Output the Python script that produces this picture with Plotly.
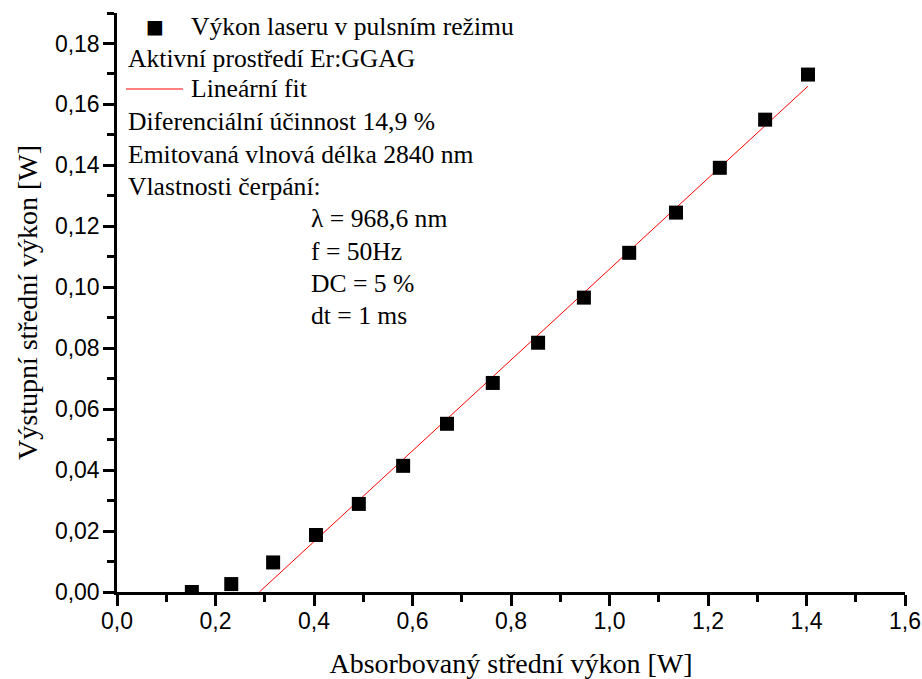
import plotly.graph_objects as go
import numpy as np

# Data
absorbed_power = [0.152, 0.232, 0.317, 0.404, 0.491, 0.581, 0.670, 0.763, 0.855,
                  0.948, 1.040, 1.135, 1.224, 1.316, 1.403]
output_power = [0.0000, 0.0026, 0.0097, 0.0187, 0.0289, 0.0414, 0.0552, 0.0686, 0.0818,
                0.0966, 0.1113, 0.1245, 0.1392, 0.1550, 0.1698]

# Linear fit parameters (from the figure: slope 14.9 %, x-intercept ~0.289 W)
fit_slope = 0.149
fit_x0 = 0.289
fit_x_end = 1.403
fit_x = [fit_x0, fit_x_end]
fit_y = [fit_slope * (x - fit_x0) for x in fit_x]

x_ticks = [0.0, 0.2, 0.4, 0.6, 0.8, 1.0, 1.2, 1.4, 1.6]
y_ticks = [0.00, 0.02, 0.04, 0.06, 0.08, 0.10, 0.12, 0.14, 0.16, 0.18]

legend_lines = [
    "Výkon laseru v pulsním režimu",
    "Aktivní prostředí Er:GGAG",
    "Lineární fit",
    "Diferenciální účinnost 14,9 %",
    "Emitovaná vlnová délka 2840 nm",
    "Vlastnosti čerpání:",
]
pump_lines = ["λ = 968,6 nm", "f = 50Hz", "DC = 5 %", "dt = 1 ms"]

W, H = 922, 679
L, T = 117, 13
R = W - 905
B = H - 592
PW, PH = W - L - R, H - T - B


def px(xp):
    return (xp - L) / PW


def py(yp):
    return (H - B - yp) / PH


SERIF = "Liberation Serif, Times New Roman, serif"
SANS = "Liberation Sans, Arial, sans-serif"

fig = go.Figure()
fig.add_trace(go.Scatter(
    x=fit_x, y=fit_y, mode="lines",
    line=dict(color="#ff0000", width=1), showlegend=False, hoverinfo="skip"))
fig.add_trace(go.Scatter(
    x=absorbed_power, y=output_power, mode="markers",
    marker=dict(symbol="square", size=14, color="black"),
    showlegend=False))

axis_common = dict(
    showgrid=False, zeroline=False, showline=True, linecolor="black", linewidth=2.5,
    ticks="outside", ticklen=11, tickwidth=2.5, tickcolor="black", automargin=False,
    tickfont=dict(family=SANS, size=23, color="black"),
    minor=dict(ticks="outside", ticklen=7, tickwidth=2.5, tickcolor="black", showgrid=False),
)

fig.update_xaxes(
    range=[0, 1.6], tickvals=x_ticks, tickformat=".1f",
    minor_dtick=0.1, minor_tick0=0, ticklabelstandoff=-4,
    title=dict(text="Absorbovaný střední výkon [W]", font=dict(family=SERIF, size=28, color="black"),
               standoff=26),
    **axis_common)
fig.update_yaxes(
    range=[0, 0.19], tickvals=y_ticks, tickformat=".2f",
    minor_dtick=0.01, minor_tick0=0, ticklabelstandoff=-1,
    title=dict(text="Výstupní střední výkon [W]", font=dict(family=SERIF, size=28, color="black"),
               standoff=10),
    **axis_common)

annotations = []
# legend marker
annotations.append(dict(x=px(155), y=py(26), xref="paper", yref="paper", text="■",
                        showarrow=False, xanchor="center", yanchor="middle",
                        font=dict(family="DejaVu Sans", size=19, color="black")))
rows_y = [26, 58, 89, 122, 155, 187]
rows_x = [189, 126, 189, 126, 126, 126]
for txt, yy, xx in zip(legend_lines, rows_y, rows_x):
    annotations.append(dict(x=px(xx), y=py(yy), xref="paper", yref="paper", text=txt,
                            showarrow=False, xanchor="left", yanchor="middle",
                            font=dict(family=SERIF, size=25.6, color="black")))
for i, txt in enumerate(pump_lines):
    annotations.append(dict(x=px(309), y=py(219 + i * 32.3), xref="paper", yref="paper", text=txt,
                            showarrow=False, xanchor="left", yanchor="middle",
                            font=dict(family=SERIF, size=25.6, color="black")))

fig.update_layout(
    width=W, height=H,
    margin=dict(l=L, r=R, t=T, b=B),
    paper_bgcolor="white", plot_bgcolor="white",
    separators=", ",
    annotations=annotations,
    shapes=[dict(type="line", xref="paper", yref="paper",
                 x0=px(126), x1=px(183), y0=py(89), y1=py(89),
                 line=dict(color="#ff0000", width=1))],
)

fig.write_html(
    "out.html",
    config={"displayModeBar": False},
    post_script="document.body.style.margin='0';document.body.style.overflow='hidden';",
)
